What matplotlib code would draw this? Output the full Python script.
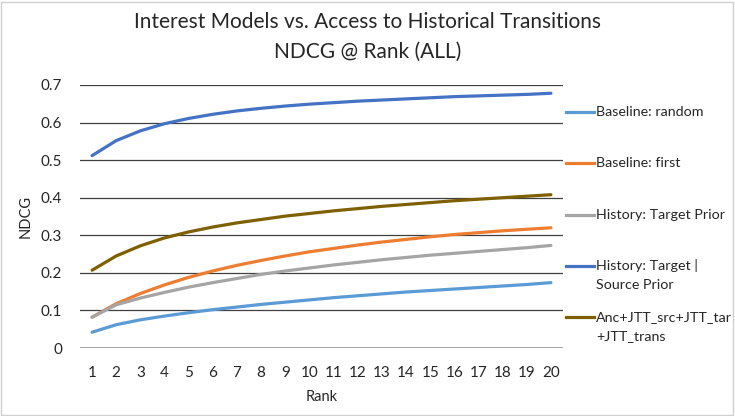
import matplotlib
matplotlib.use("Agg")
import matplotlib.pyplot as plt
from matplotlib.lines import Line2D
from matplotlib.patches import Rectangle

plt.rcParams['font.family'] = ['Lato', 'DejaVu Sans']

ranks = list(range(1, 21))

baseline_random = [0.042, 0.062, 0.075, 0.085, 0.094, 0.102, 0.109, 0.116, 0.122, 0.128,
                   0.134, 0.139, 0.144, 0.149, 0.153, 0.157, 0.161, 0.165, 0.169, 0.174]
baseline_first = [0.082, 0.118, 0.145, 0.168, 0.188, 0.205, 0.220, 0.233, 0.245, 0.256,
                  0.265, 0.274, 0.282, 0.289, 0.296, 0.302, 0.307, 0.312, 0.316, 0.320]
target_prior = [0.082, 0.115, 0.133, 0.148, 0.162, 0.174, 0.185, 0.196, 0.205, 0.213,
                0.221, 0.228, 0.235, 0.241, 0.247, 0.252, 0.257, 0.262, 0.267, 0.273]
target_source_prior = [0.512, 0.552, 0.578, 0.597, 0.611, 0.622, 0.631, 0.638, 0.644, 0.649,
                       0.653, 0.657, 0.660, 0.663, 0.666, 0.669, 0.671, 0.673, 0.675, 0.678]
anc_jtt = [0.207, 0.245, 0.272, 0.293, 0.309, 0.322, 0.333, 0.342, 0.351, 0.358,
           0.365, 0.371, 0.377, 0.382, 0.387, 0.392, 0.396, 0.400, 0.404, 0.408]

series = [
    ("Baseline: random", baseline_random, "#5B9BD5"),
    ("Baseline: first", baseline_first, "#ED7D31"),
    ("History: Target Prior", target_prior, "#A5A5A5"),
    ("History: Target |\nSource Prior", target_source_prior, "#4472C4"),
    ("Anc+JTT_src+JTT_tar\n+JTT_trans", anc_jtt, "#7F6000"),
]

W, H = 735, 416
fig = plt.figure(figsize=(W / 100, H / 100), dpi=100)
ax = fig.add_axes([80 / W, 1 - 348 / H, (563 - 80) / W, (348 - 85) / H])

for label, vals, col in series:
    ax.plot(ranks, vals, color=col, lw=2.3, solid_capstyle='round')

ax.set_xlim(0.5, 20.5)
ax.set_ylim(0, 0.7)
ax.set_xticks(ranks)
ax.set_yticks([0, 0.1, 0.2, 0.3, 0.4, 0.5, 0.6, 0.7])
ax.set_yticklabels(["0", "0.1", "0.2", "0.3", "0.4", "0.5", "0.6", "0.7"])
ax.tick_params(length=0, labelsize=11, colors='#262626')
ax.tick_params(axis='y', pad=13)
ax.tick_params(axis='x', pad=13)
for s in ax.spines.values():
    s.set_visible(False)
for y in [0.1, 0.2, 0.3, 0.4, 0.5, 0.6, 0.7]:
    ax.axhline(y, color='#404040', lw=0.9, zorder=0)
ax.axhline(0, color='#8c8c8c', lw=1.1, zorder=0)

ax.set_xlabel("Rank", fontsize=10.5, color='#262626', labelpad=7)
ax.set_ylabel("NDCG", fontsize=10.5, color='#262626', labelpad=6)

fig.text(0.5, 1 - 22 / H, "Interest Models vs. Access to Historical Transitions",
         ha='center', va='center', fontsize=15, color='#262626')
fig.text(0.5, 1 - 52 / H, "NDCG @ Rank (ALL)",
         ha='center', va='center', fontsize=15, color='#262626')

# legend drawn by hand, Excel style
leg_y = [112, 163, 215, 266, 317]
for (label, vals, col), py in zip(series, leg_y):
    fy = 1 - py / H
    fig.add_artist(Line2D([566 / W, 594 / W], [fy, fy], color=col, lw=2.3))
    lines = label.split("\n")
    for i, t in enumerate(lines):
        fig.text(596 / W, 1 - (py + i * 19) / H, t, ha='left', va='center',
                 fontsize=10.3, color='#262626')

fig.add_artist(Rectangle((1 / W, 1 / H), (W - 3) / W, (H - 3) / H, transform=fig.transFigure,
                         fill=False, edgecolor='#d0d0d0', lw=1))

fig.savefig("out.png", dpi=100)
